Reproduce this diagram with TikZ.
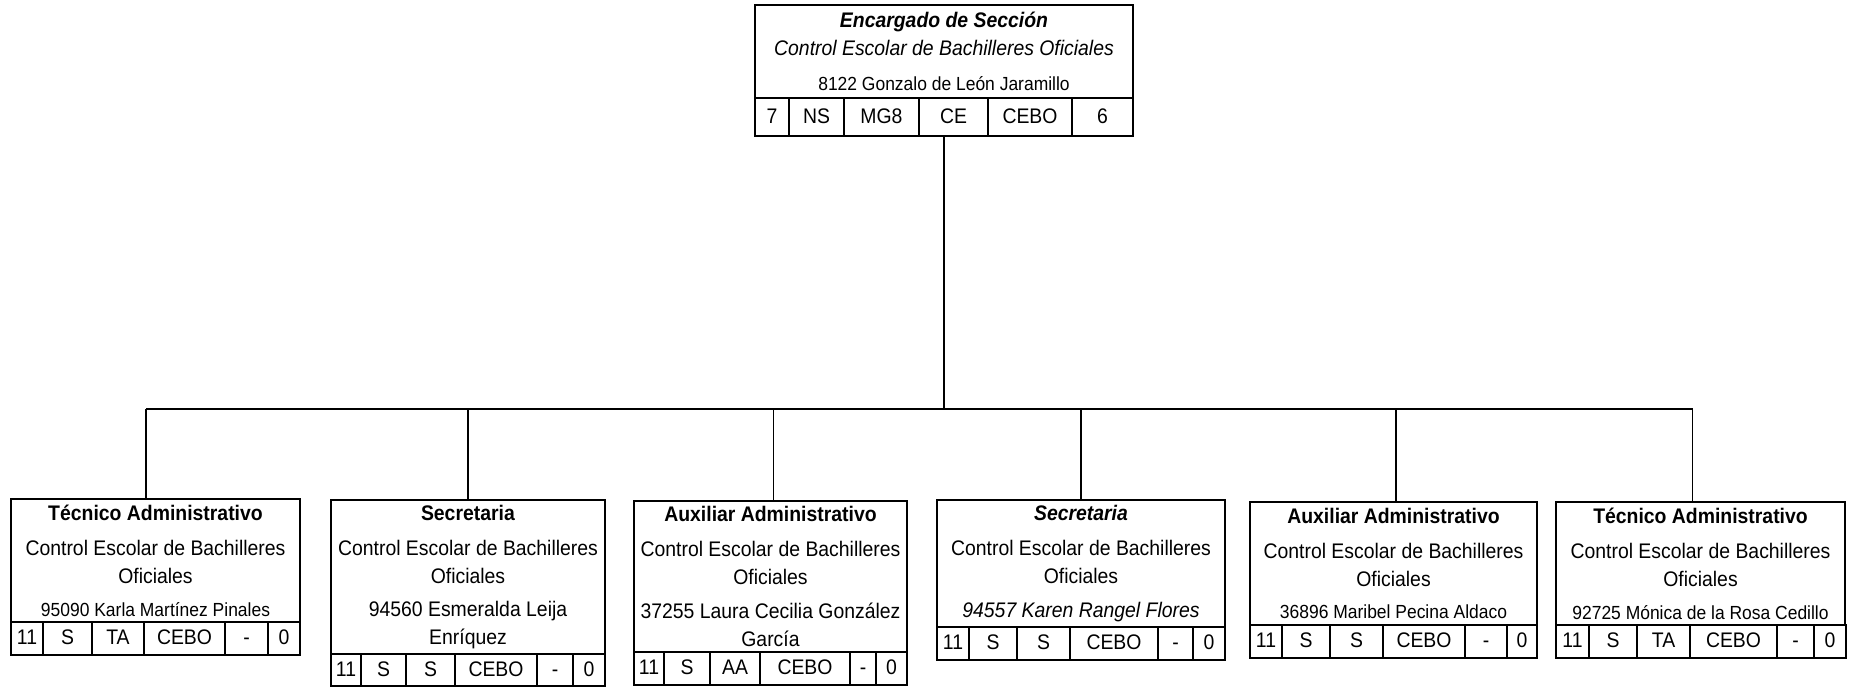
\documentclass[tikz,border=0pt]{standalone}
\usepackage{fontspec}
\setmainfont{Liberation Sans}[FakeStretch=0.92]
\usetikzlibrary{positioning,calc}

\newcommand{\namefont}{\fontsize{10.8}{16}\selectfont}
% row of cells under a box: #1 box, #2 row height, #3 width/label list
\newcommand{\cellrow}[3]{%
  \foreach \w/\lbl [count=\cnt, remember=\cnt as \prv (initially 0)] in {#3} {
    \ifnum\cnt=1 \def\spot{#1.south west}\else\def\spot{#1-\prv.north east}\fi
    \node[cellbox,minimum width=\w cm,minimum height=#2] (#1-\cnt) at (\spot) {\lbl};
  }%
}

\tikzset{
  basebox/.style={rectangle,draw=black,line width=1.2pt,align=center,
                  inner sep=0pt,outer sep=0pt,font=\fontsize{12}{16}\selectfont},
  headbox/.style={basebox,anchor=north west},
  unitbox/.style={basebox,anchor=north west},
  cellbox/.style={basebox,anchor=north west,text height=0.72em,text depth=0pt},
  conn/.style={line width=0.8pt,color=black}
}

\begin{document}
\begin{tikzpicture}
  \useasboundingbox (0,0) rectangle (37,-13.78);

  \node[headbox,minimum width=7.56cm,minimum height=1.86cm] (head) at (15.10,-0.10)
      {\textbf{\textit{Encargado de Sección}}\\
       \textit{Control Escolar de Bachilleres Oficiales}\\[4pt]
       {\namefont 8122 Gonzalo de León Jaramillo}};
  \cellrow{head}{0.76cm}{0.68/7,1.10/NS,1.50/MG8,1.38/CE,1.68/CEBO,1.22/6}

  \node[unitbox,minimum width=5.78cm,minimum height=2.46cm] (tec1) at (0.22,-9.98)
      {\textbf{Técnico Administrativo}\\[4pt]
       Control Escolar de Bachilleres\\ Oficiales\\[2.5pt]
       {\namefont 95090 Karla Martínez Pinales}};
  \cellrow{tec1}{0.66cm}{0.64/11,0.98/S,1.04/TA,1.62/CEBO,0.86/-,0.64/0}

  \node[unitbox,minimum width=5.48cm,minimum height=3.08cm] (sec1) at (6.62,-10.00)
      {\textbf{Secretaria}\\[4pt]
       Control Escolar de Bachilleres\\ Oficiales\\[3pt]
       94560 Esmeralda Leija\\ Enríquez};
  \cellrow{sec1}{0.64cm}{0.60/11,0.90/S,0.98/S,1.64/CEBO,0.72/-,0.64/0}

  \node[unitbox,minimum width=5.46cm,minimum height=3.02cm] (aux1) at (12.68,-10.02)
      {\textbf{Auxiliar Administrativo}\\[4pt]
       Control Escolar de Bachilleres\\ Oficiales\\[3pt]
       37255 Laura Cecilia González\\ García};
  \cellrow{aux1}{0.66cm}{0.60/11,0.92/S,1.00/AA,1.80/CEBO,0.52/-,0.62/0}

  \node[unitbox,minimum width=5.76cm,minimum height=2.54cm] (sec2) at (18.74,-10.00)
      {\textbf{\textit{Secretaria}}\\[4pt]
       Control Escolar de Bachilleres\\ Oficiales\\[3pt]
       \textit{94557 Karen Rangel Flores}};
  \cellrow{sec2}{0.66cm}{0.64/11,0.96/S,1.06/S,1.76/CEBO,0.70/-,0.64/0}

  \node[unitbox,minimum width=5.74cm,minimum height=2.46cm] (aux2) at (25.00,-10.04)
      {\textbf{Auxiliar Administrativo}\\[4pt]
       Control Escolar de Bachilleres\\ Oficiales\\[2.5pt]
       {\namefont 36896 Maribel Pecina Aldaco}};
  \cellrow{aux2}{0.66cm}{0.64/11,0.96/S,1.06/S,1.64/CEBO,0.84/-,0.60/0}

  \node[unitbox,minimum width=5.78cm,minimum height=2.46cm] (tec2) at (31.12,-10.04)
      {\textbf{Técnico Administrativo}\\[4pt]
       Control Escolar de Bachilleres\\ Oficiales\\[2.5pt]
       {\namefont 92725 Mónica de la Rosa Cedillo}};
  \cellrow{tec2}{0.66cm}{0.66/11,0.96/S,1.06/TA,1.74/CEBO,0.74/-,0.64/0}

  % connectors
  \coordinate (bus) at (0,-8.18);
  \draw[conn] (head-4.south -| head.south) -- (head.south |- bus);
  \draw[conn] ([xshift=-0.19cm]tec1.north |- bus) -- ([xshift=-0.16cm]tec2.north |- bus);
  \foreach \n/\dx in {tec1/-0.19,sec1/0,aux1/0.06,sec2/0,aux2/0.05,tec2/-0.16}
    \draw[conn] ([xshift=\dx cm]\n.north |- bus) -- ([xshift=\dx cm]\n.north);
\end{tikzpicture}
\end{document}
